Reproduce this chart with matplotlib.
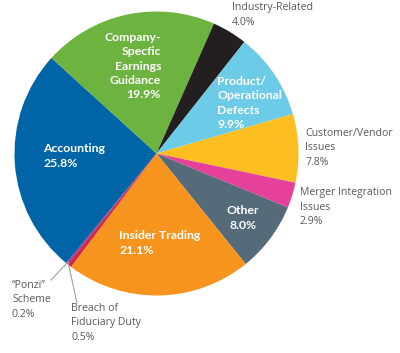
import matplotlib
matplotlib.use("Agg")
import matplotlib.pyplot as plt

plt.rcParams['font.family'] = ['Open Sans', 'DejaVu Sans']

categories = ["Accounting", "Company-Specfic Earnings Guidance", "Industry-Related",
              "Product/Operational Defects", "Customer/Vendor Issues",
              "Merger Integration Issues", "Other", "Insider Trading",
              "Breach of Fiduciary Duty", "\"Ponzi\" Scheme"]
shares = [25.8, 19.9, 4.0, 9.9, 7.8, 2.9, 8.0, 21.1, 0.5, 0.2]
colors = ["#0065a6", "#6cb33f", "#231f20", "#6ccbe6", "#fdbe21",
          "#e5409a", "#566b79", "#f7941e", "#d5254c", "#8a3f8f"]

# label text for each slice
inside_labels = {
    0: "Accounting\n25.8%",
    1: "Company-\nSpecfic\nEarnings\nGuidance\n19.9%",
    3: "Product/\nOperational\nDefects\n9.9%",
    6: "Other\n8.0%",
    7: "Insider Trading\n21.1%",
}
outside_labels = {
    2: "Industry-Related\n4.0%",
    4: "Customer/Vendor\nIssues\n7.8%",
    5: "Merger Integration\nIssues\n2.9%",
    8: "Breach of\nFiduciary Duty\n0.5%",
    9: "\u201cPonzi\u201d\nScheme\n0.2%",
}

W, H = 400, 353
fig = plt.figure(figsize=(W / 100, H / 100), dpi=100)
ax = fig.add_axes([0, 0, 1, 1])

cx, cy, r = 156.5, H - 153.5, 142
ax.pie(shares, colors=colors, startangle=230.5, counterclock=False,
       center=(cx, cy), radius=r, wedgeprops=dict(linewidth=0))
ax.set_xlim(0, W)
ax.set_ylim(0, H)
ax.set_aspect('equal')
ax.axis('off')

def y(py):
    return H - py

# inside labels (x, y in pixels from top-left, alignment)
inside_pos = {
    0: (43, 156, 'left', 'left'),
    1: (161, 66, 'right', 'right'),
    3: (217, 103, 'left', 'left'),
    6: (243, 218, 'center', 'center'),
    7: (119, 243, 'left', 'left'),
}
for i, (px, py, ha, ma) in inside_pos.items():
    ax.text(px, y(py), inside_labels[i], color="white", fontweight="bold",
            fontsize=8.8, ha=ha, va="center", multialignment=ma,
            linespacing=1.36, family=['Lato', 'DejaVu Sans'])

gray = "#58595b"
outside_pos = {
    2: (232, 15),
    4: (305, 148),
    5: (300, 207),
    8: (71, 323),
    9: (12, 300),
}
for i, (px, py) in outside_pos.items():
    ax.text(px, y(py), outside_labels[i], color=gray, fontsize=7.6,
            ha="left", va="center", linespacing=1.38)

# leader lines for the tiny slices
ax.plot([68, 51], [y(262), y(280)], color="#a0a0a0", lw=0.8)
ax.plot([68, 77], [y(262), y(303)], color="#a0a0a0", lw=0.8)

fig.savefig("out.png", dpi=100, facecolor="white")
